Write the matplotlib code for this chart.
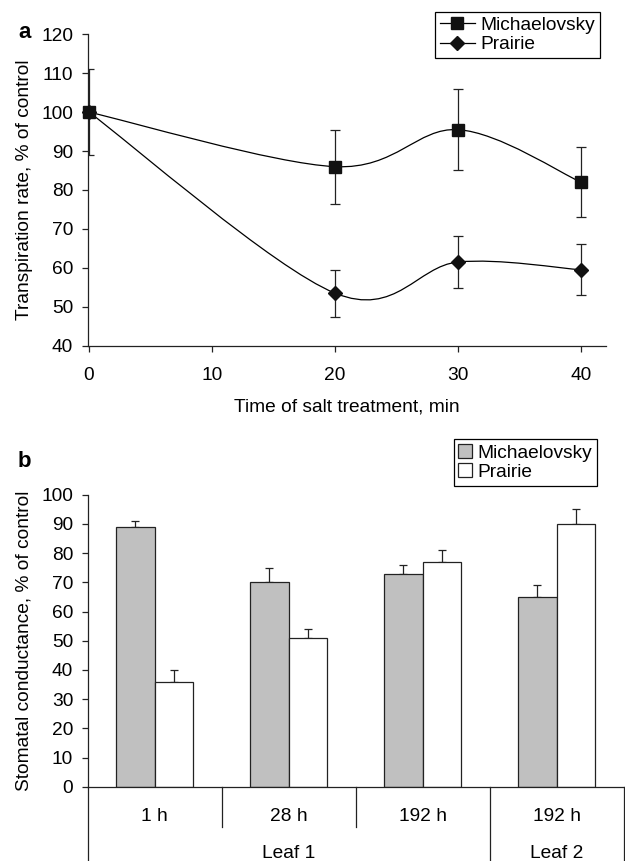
import matplotlib
matplotlib.use('Agg')
import matplotlib.pyplot as plt
from matplotlib.path import Path
from matplotlib.patches import PathPatch, Patch
from matplotlib.lines import Line2D
import numpy as np

plt.rcParams['font.family'] = ['Liberation Sans', 'DejaVu Sans']
FS = 13.8
plt.rcParams['font.size'] = FS

# panel a - transpiration rate
time_min = [0, 20, 30, 40]
mich_tr = [100, 86, 95.5, 82]
mich_tr_err = [11, 9.5, 10.4, 9]
prai_tr = [100, 53.5, 61.5, 59.5]
prai_tr_err = [0, 6, 6.6, 6.5]

# panel b - stomatal conductance
cats = ['1 h', '28 h', '192 h', '192 h']
leaf_groups = [('Leaf 1', 0, 2), ('Leaf 2', 3, 3)]
mich_sc = [89, 70, 73, 65]
mich_sc_err = [2, 5, 3, 4]
prai_sc = [36, 51, 77, 90]
prai_sc_err = [4, 3, 4, 5]

W, H = 625, 861
fig = plt.figure(figsize=(W / 100, H / 100), dpi=100)


def smooth_path(xs, ys):
    # excel style smoothed line: cubic bezier between the points
    pts = np.column_stack([xs, ys]).astype(float)
    n = len(pts)
    verts = [pts[0]]
    codes = [Path.MOVETO]
    for i in range(n - 1):
        p0 = pts[max(i - 1, 0)]
        p1 = pts[i]
        p2 = pts[i + 1]
        p3 = pts[min(i + 2, n - 1)]
        verts += [p1 + (p2 - p0) / 6, p2 - (p3 - p1) / 6, p2]
        codes += [Path.CURVE4] * 3
    return Path(verts, codes)


def style_axis(ax):
    for s in ['top', 'right']:
        ax.spines[s].set_visible(False)
    for s in ['left', 'bottom']:
        ax.spines[s].set_linewidth(0.9)
        ax.spines[s].set_color('#222222')
    ax.tick_params(direction='out', length=4.5, width=0.9, color='#222222', labelsize=FS, pad=6)


# ---- panel a
ax1 = fig.add_axes([87.7 / W, 1 - 345.7 / H, 518 / W, 311.4 / H])
style_axis(ax1)
for ys in [mich_tr, prai_tr]:
    ax1.add_patch(PathPatch(smooth_path(time_min, ys), fill=False, lw=0.9, ec='black'))
ax1.errorbar(time_min, mich_tr, yerr=mich_tr_err, fmt='none', ecolor='#222222', elinewidth=0.9, capsize=3.3, capthick=0.9)
ax1.errorbar(time_min[1:], prai_tr[1:], yerr=prai_tr_err[1:], fmt='none', ecolor='#222222', elinewidth=0.9, capsize=3.3, capthick=0.9)
ax1.plot(time_min, mich_tr, ls='none', marker='s', ms=8.6, color='#111111', clip_on=False, zorder=5)
ax1.plot(time_min, prai_tr, ls='none', marker='D', ms=6.8, color='#111111', clip_on=False, zorder=5)
ax1.set_xlim(-0.1, 42.0)
ax1.set_ylim(40, 120)
ax1.set_xticks([0, 10, 20, 30, 40])
ax1.set_yticks(range(40, 121, 10))
ax1.tick_params(axis='x', pad=11)
ax1.set_xlabel('Time of salt treatment, min', fontsize=FS, labelpad=10)
ax1.set_ylabel('Transpiration rate, % of control', fontsize=FS, labelpad=6)
fig.text(25 / W, 1 - 33 / H, 'a', fontsize=16, fontweight='bold', ha='center', va='center')

h1 = [Line2D([], [], color='black', lw=0.9, marker='s', ms=8.6, mfc='#111111', mec='#111111'),
      Line2D([], [], color='black', lw=0.9, marker='D', ms=6.8, mfc='#111111', mec='#111111')]
leg1 = fig.legend(h1, ['Michaelovsky', 'Prairie'], loc='upper right', bbox_to_anchor=(600 / W, 1 - 11.7 / H),
                  borderaxespad=0, fancybox=False, edgecolor='black', framealpha=1, fontsize=FS,
                  handlelength=1.8, handletextpad=0.3, labelspacing=0.1, borderpad=0.25)
leg1.get_frame().set_linewidth(0.9)

# ---- panel b
ax2 = fig.add_axes([87.7 / W, 1 - 786.7 / H, 536 / W, 292 / H])
style_axis(ax2)
x = np.arange(len(cats))
bw = 0.287
ax2.bar(x - bw / 2, mich_sc, bw, color='#c0c0c0', edgecolor='#222222', lw=0.9, zorder=2)
ax2.bar(x + bw / 2, prai_sc, bw, color='white', edgecolor='#222222', lw=0.9, zorder=2)
ax2.errorbar(x - bw / 2, mich_sc, yerr=[np.zeros(4), mich_sc_err], fmt='none', ecolor='#222222',
             elinewidth=0.9, capsize=3.2, capthick=0.9, zorder=1)
ax2.errorbar(x + bw / 2, prai_sc, yerr=[np.zeros(4), prai_sc_err], fmt='none', ecolor='#222222',
             elinewidth=0.9, capsize=3.2, capthick=0.9, zorder=1)
ax2.set_xlim(-0.5, 3.5)
ax2.set_ylim(0, 100)
ax2.set_yticks(range(0, 101, 10))
ax2.set_xticks([])
ax2.set_ylabel('Stomatal conductance, % of control', fontsize=FS, labelpad=6)

# two-level category axis below the plot
px = 1 / 292  # one pixel in axes units (vertical)
tr = ax2.get_xaxis_transform()
for xb, y_end in [(-0.5, -80 * px), (0.5, -40 * px), (1.5, -40 * px), (2.5, -80 * px), (3.5, -80 * px)]:
    ax2.plot([xb, xb], [0, y_end], transform=tr, color='#222222', lw=0.9, clip_on=False)
for i, c in enumerate(cats):
    ax2.text(i, -29.5 * px, c, transform=tr, ha='center', va='center', fontsize=FS)
for name, a, b in leaf_groups:
    ax2.text((a + b) / 2, -66.5 * px, name, transform=tr, ha='center', va='center', fontsize=FS)
fig.text(24 / W, 1 - 461.7 / H, 'b', fontsize=16, fontweight='bold', ha='center', va='center')

h2 = [Patch(facecolor='#c0c0c0', edgecolor='#222222', lw=0.9),
      Patch(facecolor='white', edgecolor='#222222', lw=0.9)]
leg2 = fig.legend(h2, ['Michaelovsky', 'Prairie'], loc='upper right', bbox_to_anchor=(597 / W, 1 - 439.3 / H),
                  borderaxespad=0, fancybox=False, edgecolor='black', framealpha=1, fontsize=FS,
                  handlelength=0.7, handleheight=0.7, handletextpad=0.3, labelspacing=0.1, borderpad=0.25)
leg2.get_frame().set_linewidth(0.9)

fig.savefig('out.png', dpi=100)
